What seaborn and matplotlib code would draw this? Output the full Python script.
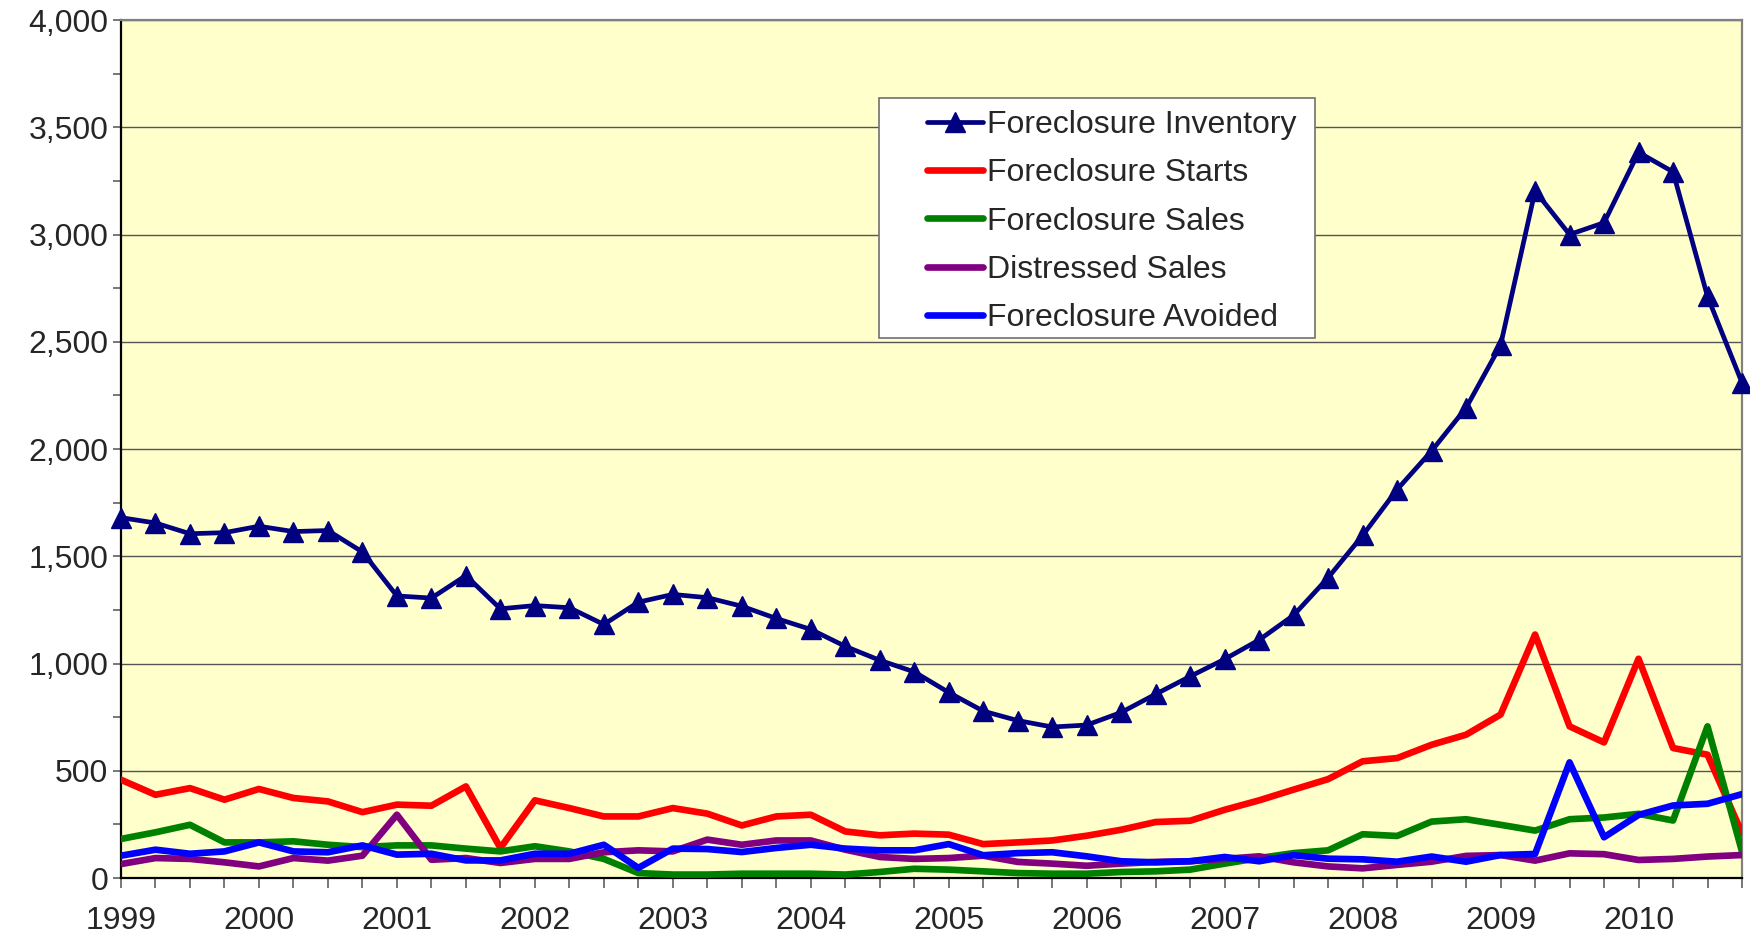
import matplotlib
matplotlib.use("Agg")
import matplotlib.pyplot as plt
import matplotlib.ticker as mticker
from matplotlib.patches import Rectangle
import numpy as np
import pandas as pd
import seaborn as sns

sns.set_style("white")
plt.rcParams["font.family"] = ["Liberation Sans", "DejaVu Sans"]

years = ["1999", "2000", "2001", "2002", "2003", "2004",
         "2005", "2006", "2007", "2008", "2009", "2010"]

inventory = [1680, 1655, 1605, 1610, 1640, 1615, 1620, 1520, 1315, 1305, 1410, 1255,
             1270, 1260, 1182, 1286, 1322, 1307, 1267, 1210, 1159, 1080, 1015, 961,
             865, 778, 734, 704, 713, 772, 857, 940, 1020, 1110, 1225, 1400,
             1597, 1811, 1991, 2192, 2484, 3203, 3000, 3055, 3383, 3292, 2711, 2309]
starts = [458, 388, 419, 365, 415, 373, 357, 307, 342, 337, 427, 140,
          362, 326, 287, 287, 326, 300, 245, 287, 295, 217, 199, 207,
          202, 158, 166, 175, 197, 225, 261, 267, 318, 362, 412, 461,
          544, 559, 621, 668, 762, 1135, 707, 632, 1022, 606, 575, 209]
sales = [182, 213, 248, 166, 166, 171, 155, 144, 152, 152, 137, 124,
         148, 124, 89, 23, 16, 16, 20, 20, 20, 16, 28, 43,
         39, 31, 23, 20, 20, 28, 31, 39, 67, 93, 116, 129,
         204, 196, 263, 274, 248, 221, 274, 282, 299, 268, 707, 123]
distressed = [65, 93, 89, 73, 54, 93, 81, 104, 295, 85, 93, 70,
              89, 89, 120, 129, 124, 179, 155, 175, 175, 132, 98, 89,
              93, 104, 75, 67, 57, 67, 75, 78, 89, 101, 73, 54,
              45, 61, 76, 103, 107, 81, 115, 111, 84, 89, 100, 107]
avoided = [104, 132, 113, 124, 166, 124, 120, 152, 109, 113, 82, 82,
           113, 113, 155, 47, 137, 135, 121, 140, 155, 137, 129, 129,
           158, 106, 116, 120, 101, 78, 73, 78, 98, 78, 106, 90,
           87, 76, 100, 76, 107, 112, 539, 190, 294, 338, 346, 391]

series = [
    ("Foreclosure Inventory", inventory, "#000080"),
    ("Foreclosure Starts", starts, "#FF0000"),
    ("Foreclosure Sales", sales, "#008000"),
    ("Distressed Sales", distressed, "#800080"),
    ("Foreclosure Avoided", avoided, "#0000FF"),
]

quarter = np.arange(len(inventory))

fig = plt.figure(figsize=(17.5, 9.35), dpi=100)
ax = fig.add_axes([121 / 1750, 1 - 878 / 935, 1621 / 1750, 858 / 935])
ax.set_facecolor("#FFFFCC")

for name, vals, color in series:
    df = pd.DataFrame({"q": quarter, "v": vals})
    if name == "Foreclosure Inventory":
        sns.lineplot(data=df, x="q", y="v", ax=ax, color=color, lw=3.4,
                     marker="^", markersize=15, markeredgecolor=color,
                     markeredgewidth=1, label=name, clip_on=False, zorder=3)
    else:
        sns.lineplot(data=df, x="q", y="v", ax=ax, color=color, lw=4.8,
                     label=name, solid_capstyle="round", zorder=3)

ax.set_xlim(0, len(inventory) - 1)
ax.set_ylim(0, 4000)
ax.set_xlabel("")
ax.set_ylabel("")

ax.xaxis.set_major_locator(mticker.FixedLocator(np.arange(0, len(inventory), 4)))
ax.xaxis.set_minor_locator(mticker.FixedLocator(quarter))
ax.set_xticklabels(years)
ax.yaxis.set_major_locator(mticker.MultipleLocator(500))
ax.yaxis.set_minor_locator(mticker.MultipleLocator(250))
ax.yaxis.set_major_formatter(mticker.StrMethodFormatter("{x:,.0f}"))

ax.tick_params(axis="x", which="both", direction="out", length=7, width=1.2,
               color="#606060", pad=13, labelsize=23, bottom=True)
ax.tick_params(axis="y", which="both", direction="out", length=6, width=1.2,
               color="#606060", pad=3, labelsize=23, left=True)

ax.yaxis.grid(True, color="#555555", lw=1)
ax.set_axisbelow(True)

for side in ["left", "bottom"]:
    ax.spines[side].set_color("black")
    ax.spines[side].set_linewidth(1.6)
for side in ["top", "right"]:
    ax.spines[side].set_color("#808080")
    ax.spines[side].set_linewidth(1.6)

# legend box drawn separately so the handles can sit further inside
ax.add_patch(Rectangle((0.4676, 0.6294), 0.269, 0.2797, transform=ax.transAxes,
                       facecolor="white", edgecolor="#707070", lw=1.2, zorder=4))
handles, labels = ax.get_legend_handles_labels()
ax.legend(handles, labels, loc="upper left", bbox_to_anchor=(0.4972, 0.895),
          frameon=False, fontsize=23, borderpad=0, borderaxespad=0,
          handlelength=1.75, handletextpad=0.12, labelspacing=0.57)

fig.savefig("out.png", dpi=100, facecolor="white")
